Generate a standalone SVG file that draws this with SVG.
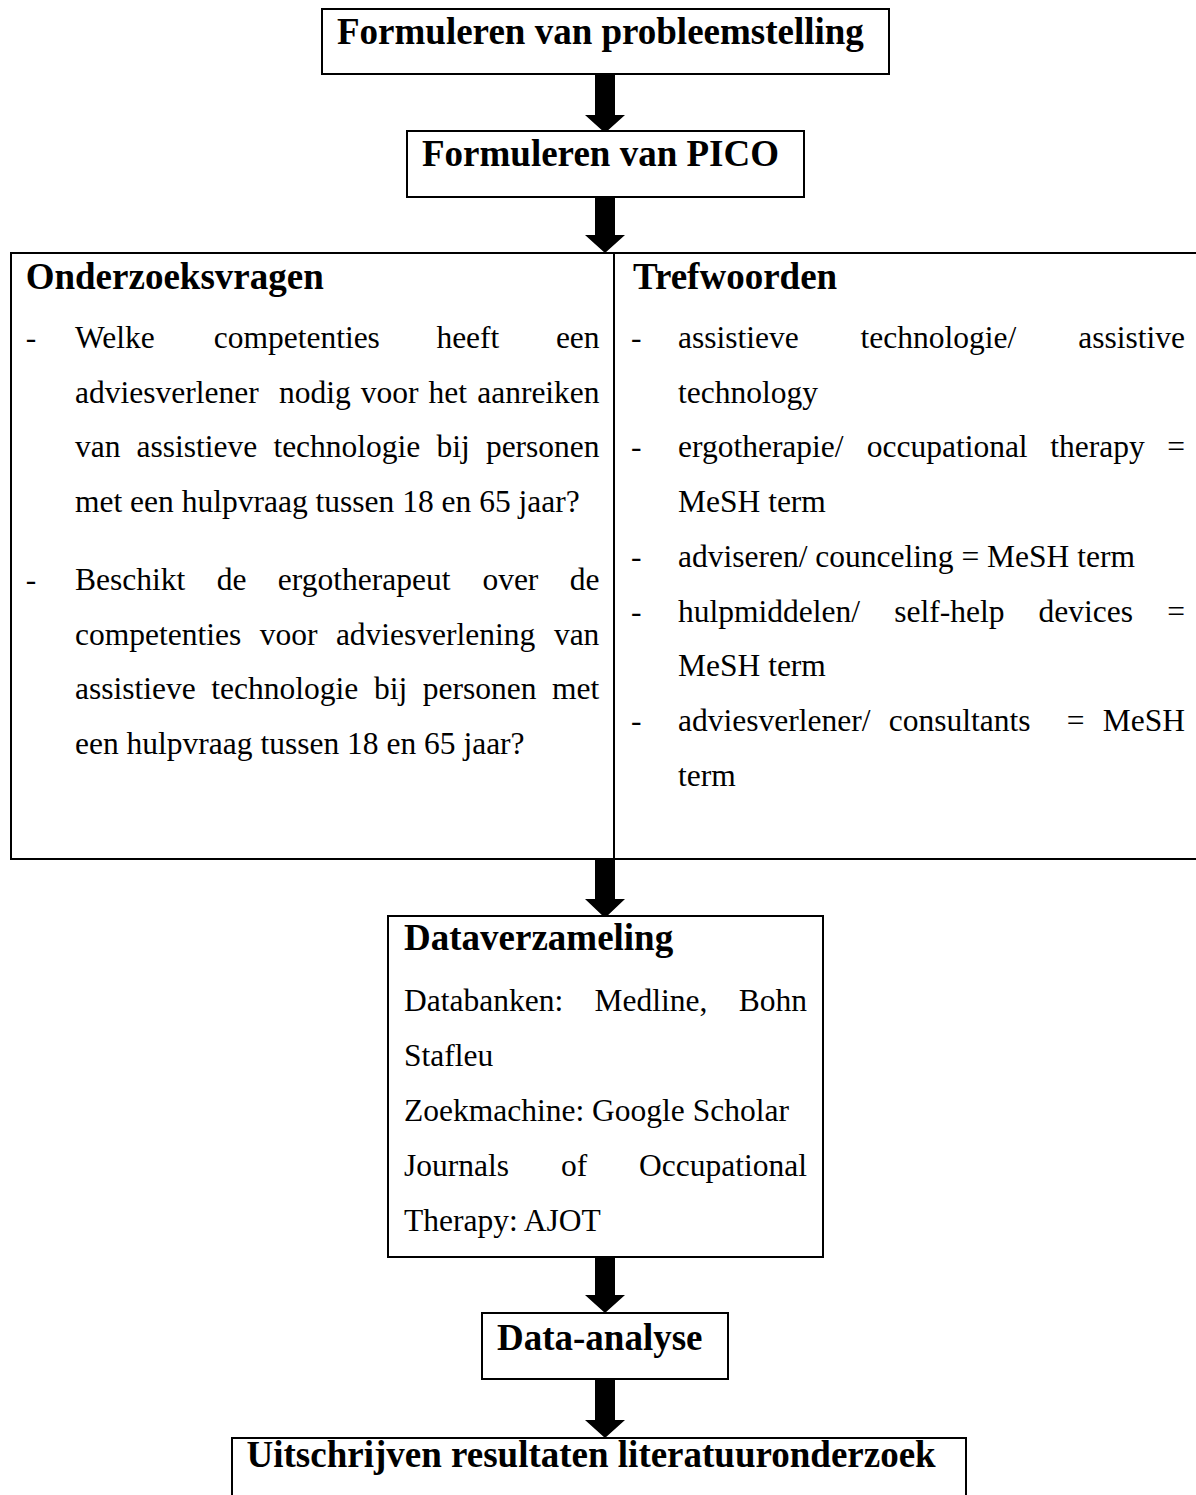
<svg xmlns="http://www.w3.org/2000/svg" width="1196" height="1495" viewBox="0 0 1196 1495">
<style>
.box{fill:#fff;stroke:#000;stroke-width:2}
.h{font-family:"Liberation Serif","Times New Roman",serif;font-weight:bold;font-size:37px;fill:#000}
.b{font-family:"Liberation Serif","Times New Roman",serif;font-size:31.5px;fill:#000}
.arr{fill:#000}
</style>
<rect width="1196" height="1495" fill="#fff"/>
<g id="connectors">
<polygon class="arr" points="595,74 615,74 615,115 625,115 605,133 585,115 595,115"/>
<polygon class="arr" points="595,197 615,197 615,235 625,235 605,253 585,235 595,235"/>
<polygon class="arr" points="595,859 615,859 615,899 625,899 605,918 585,899 595,899"/>
<polygon class="arr" points="595,1257 615,1257 615,1295 625,1295 605,1313 585,1295 595,1295"/>
<polygon class="arr" points="595,1379 615,1379 615,1420 625,1420 605,1438 585,1420 595,1420"/>
</g>
<g id="node-probleemstelling">
<rect class="box" x="322" y="9" width="567" height="65"/>
<text class="h" x="337" y="44">Formuleren van probleemstelling</text>
</g>
<g id="node-pico">
<rect class="box" x="407" y="131" width="397" height="66"/>
<text class="h" x="422" y="166">Formuleren van PICO</text>
</g>
<g id="node-vragen-trefwoorden">
<rect class="box" x="11" y="253" width="1195" height="606"/>
<line x1="614" y1="253" x2="614" y2="859" stroke="#000" stroke-width="2"/>
<text class="h" x="25.7" y="289">Onderzoeksvragen</text>
<text class="h" x="633" y="289">Trefwoorden</text>
<g class="b">
<text class="b" x="25.7" y="348">-</text>
<text class="b" y="348"><tspan x="75">Welke</tspan><tspan x="213.7">competenties</tspan><tspan x="436.4">heeft</tspan><tspan x="555.9">een</tspan></text>
<text class="b" y="403"><tspan x="75">adviesverlener</tspan><tspan x="278.9">nodig</tspan><tspan x="360.8">voor</tspan><tspan x="428.6">het</tspan><tspan x="477.2">aanreiken</tspan></text>
<text class="b" y="457"><tspan x="75">van</tspan><tspan x="136.6">assistieve</tspan><tspan x="273.4">technologie</tspan><tspan x="436.5">bij</tspan><tspan x="485.9">personen</tspan></text>
<text class="b" x="75" y="512">met een hulpvraag tussen 18 en 65 jaar?</text>
<text class="b" x="25.7" y="590">-</text>
<text class="b" y="590"><tspan x="75">Beschikt</tspan><tspan x="216.7">de</tspan><tspan x="277.8">ergotherapeut</tspan><tspan x="482.4">over</tspan><tspan x="569.8">de</tspan></text>
<text class="b" y="645"><tspan x="75">competenties</tspan><tspan x="259.7">voor</tspan><tspan x="335.9">adviesverlening</tspan><tspan x="553.9">van</tspan></text>
<text class="b" y="699"><tspan x="75">assistieve</tspan><tspan x="211.3">technologie</tspan><tspan x="373.9">bij</tspan><tspan x="422.8">personen</tspan><tspan x="552.1">met</tspan></text>
<text class="b" x="75" y="754">een hulpvraag tussen 18 en 65 jaar?</text>

<text class="b" x="631" y="348">-</text>
<text class="b" y="348"><tspan x="678">assistieve</tspan><tspan x="860.6">technologie/</tspan><tspan x="1078.2">assistive</tspan></text>
<text class="b" x="678" y="403">technology</text>
<text class="b" x="631" y="457">-</text>
<text class="b" y="457"><tspan x="678">ergotherapie/</tspan><tspan x="866.7">occupational</tspan><tspan x="1050.2">therapy</tspan><tspan x="1167.2">=</tspan></text>
<text class="b" x="678" y="512">MeSH term</text>
<text class="b" x="631" y="567">-</text>
<text class="b" x="678" y="567">adviseren/ counceling = MeSH term</text>
<text class="b" x="631" y="622">-</text>
<text class="b" y="622"><tspan x="678">hulpmiddelen/</tspan><tspan x="894.2">self-help</tspan><tspan x="1038.6">devices</tspan><tspan x="1167.3">=</tspan></text>
<text class="b" x="678" y="676">MeSH term</text>
<text class="b" x="631" y="731">-</text>
<text class="b" y="731"><tspan x="678">adviesverlener/</tspan><tspan x="888.7">consultants</tspan><tspan x="1066.7">=</tspan><tspan x="1102.8">MeSH</tspan></text>
<text class="b" x="678" y="786">term</text>
</g>
</g>
<g id="node-dataverzameling">
<rect class="box" x="388" y="916" width="435" height="341"/>
<text class="h" x="404" y="950">Dataverzameling</text>
<text class="b" y="1011"><tspan x="404">Databanken:</tspan><tspan x="594.5">Medline,</tspan><tspan x="738.7">Bohn</tspan></text>
<text class="b" x="404" y="1066">Stafleu</text>
<text class="b" x="404" y="1121">Zoekmachine: Google Scholar</text>
<text class="b" y="1176"><tspan x="404">Journals</tspan><tspan x="560.9">of</tspan><tspan x="639">Occupational</tspan></text>
<text class="b" x="404" y="1231">Therapy: AJOT</text>
</g>
<g id="node-data-analyse">
<rect class="box" x="482" y="1313" width="246" height="66"/>
<text class="h" x="497" y="1350">Data-analyse</text>
</g>
<g id="node-uitschrijven">
<rect class="box" x="232" y="1438" width="734" height="80"/>
<text class="h" x="246.5" y="1467">Uitschrijven resultaten literatuuronderzoek</text>
</g>
</svg>
